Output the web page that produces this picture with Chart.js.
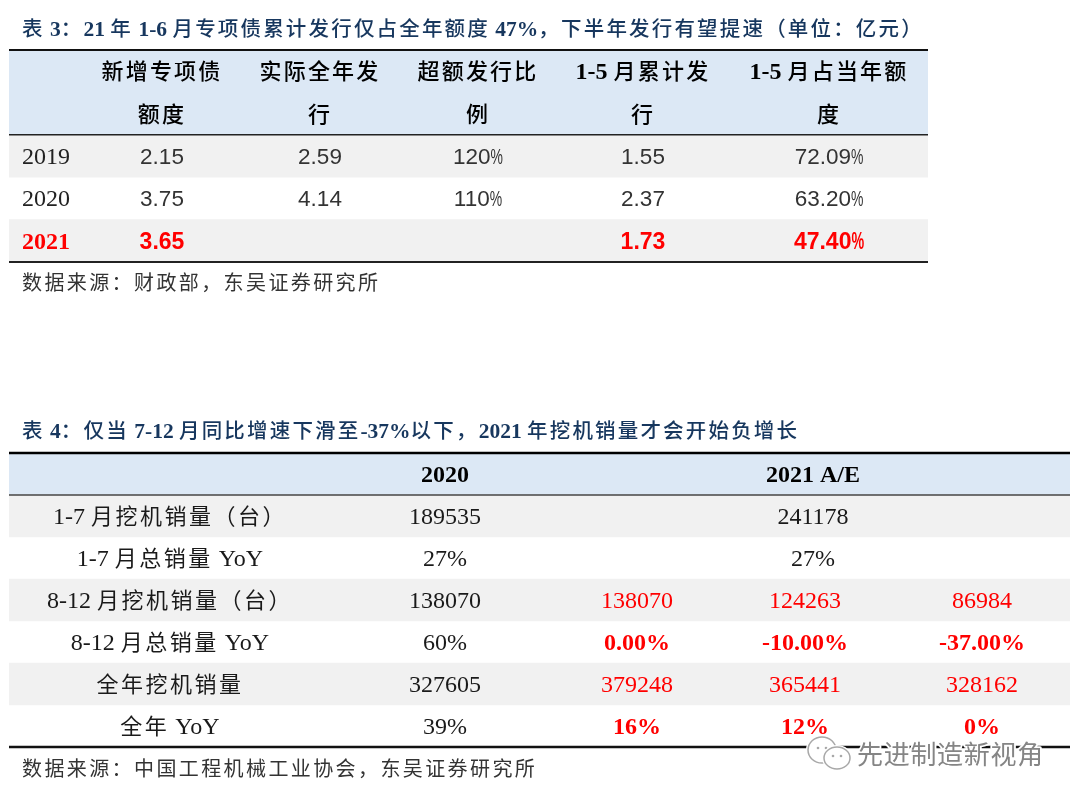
<!DOCTYPE html>
<html lang="zh">
<head>
<meta charset="utf-8">
<title>表 3 表 4</title>
<script src="https://cdn.jsdelivr.net/npm/chart.js@4"></script>
<style>
    html, body { margin: 0; padding: 0; background: #fff; }
    #page { position: relative; width: 1080px; height: 798px; overflow: hidden; }
    canvas { position: absolute; left: 0; }
    #table3 { top: 0; }
    #table4 { top: 400px; }
</style>
</head>
<body>
<div id="page">
    <canvas id="table3" width="1080" height="400"></canvas>
    <canvas id="table4" width="1080" height="398"></canvas>
</div>
<script>
// table 3 data
const title3 = '表 3：21 年 1-6 月专项债累计发行仅占全年额度 47%，下半年发行有望提速（单位：亿元）';
const source3 = '数据来源：财政部，东吴证券研究所';
const rows3 = ['表头一', '表头二', '2019', '2020', '2021'];
const headLine1 = ['新增专项债', '实际全年发', '超额发行比', '1-5 月累计发', '1-5 月占当年额'];
const headLine2 = ['额度', '行', '例', '行', '度'];
const quota = ['2.15', '3.75', '3.65'];
const actual = ['2.59', '4.14', ''];
const overRatio = ['120%', '110%', ''];
const cumJanMay = ['1.55', '2.37', '1.73'];
const shareJanMay = ['72.09%', '63.20%', '47.40%'];

// table 4 data
const title4 = '表 4：仅当 7-12 月同比增速下滑至-37%以下，2021 年挖机销量才会开始负增长';
const source4 = '数据来源：中国工程机械工业协会，东吴证券研究所';
const head4 = ['2020', '2021 A/E'];
const rows4 = ['表头', '1-7 月挖机销量（台）', '1-7 月总销量 YoY', '8-12 月挖机销量（台）', '8-12 月总销量 YoY', '全年挖机销量', '全年 YoY'];
const sales2020 = ['189535', '27%', '138070', '60%', '327605', '39%'];
const merged2021 = ['241178', '27%'];
const caseFlat = ['138070', '0.00%', '379248', '16%'];
const caseDown10 = ['124263', '-10.00%', '365441', '12%'];
const caseDown37 = ['86984', '-37.00%', '328162', '0%'];

const RED = '#ff0000';
const NAVY = '#17375e';
const CJK = '"Noto Sans CJK SC"';
const SERIF = '"Liberation Serif"';
const SANS = '"Liberation Sans"';
const isCjk = ch => /[\u2e80-\u9fff\u3000-\u303f\uff00-\uffef]/.test(ch);

// latin and chinese need different fonts, so the string is cut in runs
function drawMixed(ctx, text, x, y, st) {
    const runs = [];
    for (const ch of text) {
        const cjk = isCjk(ch);
        const narrow = st.narrowPct && ch === '%';
        const last = runs[runs.length - 1];
        if (last && last.cjk === cjk && last.narrow === narrow) last.text += ch;
        else runs.push({ text: ch, cjk, narrow });
    }
    let total = 0;
    for (const r of runs) {
        ctx.font = r.cjk ? st.cjkFont : st.latinFont;
        ctx.letterSpacing = r.cjk ? st.spacing + 'px' : '0px';
        r.w = ctx.measureText(r.text).width * (r.narrow ? 0.62 : 1);
        total += r.w;
    }
    let cx = st.align === 'center' ? x - total / 2 : x;
    ctx.textAlign = 'left';
    ctx.textBaseline = 'alphabetic';
    ctx.fillStyle = st.color;
    for (const r of runs) {
        ctx.font = r.cjk ? st.cjkFont : st.latinFont;
        ctx.letterSpacing = r.cjk ? st.spacing + 'px' : '0px';
        if (r.narrow) {
            ctx.save();
            ctx.translate(cx, y);
            ctx.scale(0.62, 1);
            ctx.fillText(r.text, 0, 0);
            ctx.restore();
        } else {
            ctx.fillText(r.text, cx, y);
        }
        cx += r.w;
    }
    ctx.letterSpacing = '0px';
}

const titleStyle = { latinFont: 'bold 21.5px ' + SERIF, cjkFont: '500 20.5px ' + CJK, spacing: 2.18, color: NAVY };
const sourceStyle = { latinFont: '20px ' + SERIF, cjkFont: '20px ' + CJK, spacing: 2.4, color: '#333' };
const head3Style = { latinFont: 'bold 24px ' + SERIF, cjkFont: '500 22px ' + CJK, spacing: 2.2, color: '#000', align: 'center' };
const sans3 = { latinFont: '22.5px ' + SANS, cjkFont: '22px ' + CJK, spacing: 0, color: '#333', align: 'center', narrowPct: true };
const sans3Red = { latinFont: 'bold 23px ' + SANS, cjkFont: '22px ' + CJK, spacing: 0, color: RED, align: 'center', narrowPct: true };
const serif4 = { latinFont: '24px ' + SERIF, cjkFont: '22px ' + CJK, spacing: 2.5, color: '#1a1a1a', align: 'center' };
const serif4Head = { latinFont: 'bold 24px ' + SERIF, cjkFont: '22px ' + CJK, spacing: 0, color: '#000', align: 'center' };
const red4 = { latinFont: '24px ' + SERIF, cjkFont: '22px ' + CJK, spacing: 0, color: RED, align: 'center' };
const red4Bold = { latinFont: 'bold 24px ' + SERIF, cjkFont: '22px ' + CJK, spacing: 0, color: RED, align: 'center' };

function hLine(chart, y, width, color) {
    const { ctx, chartArea } = chart;
    ctx.strokeStyle = color;
    ctx.lineWidth = width;
    ctx.beginPath();
    ctx.moveTo(chartArea.left, y);
    ctx.lineTo(chartArea.right, y);
    ctx.stroke();
}

const table3Plugin = {
    id: 'table3Text',
    afterDraw(chart) {
        const { ctx, chartArea } = chart;
        const x = chart.scales.x, y = chart.scales.y;
        const base = label => y.getPixelForValue(rows3.indexOf(label)) + 8;
        const colX = [162, 320, 478, 643, 829].map(v => x.getPixelForValue(v - 9));

        drawMixed(ctx, title3, 22, 36, titleStyle);
        colX.forEach((cx, i) => {
            drawMixed(ctx, headLine1[i], cx, base('表头一'), head3Style);
            drawMixed(ctx, headLine2[i], cx, base('表头二'), head3Style);
        });
        ['2019', '2020', '2021'].forEach((year, r) => {
            const red = year === '2021';
            const yearStyle = { latinFont: (red ? 'bold ' : '') + '24px ' + SERIF, cjkFont: '22px ' + CJK, spacing: 0, color: red ? RED : '#222' };
            drawMixed(ctx, year, 22, base(year), yearStyle);
            [quota, actual, overRatio, cumJanMay, shareJanMay].forEach((col, c) => {
                if (col[r]) drawMixed(ctx, col[r], colX[c], base(year), red ? sans3Red : sans3);
            });
        });
        const edge = i => y.getPixelForValue(i) - (y.getPixelForValue(1) - y.getPixelForValue(0)) / 2;
        hLine(chart, chartArea.top, 2, '#111');
        hLine(chart, edge(2), 1.5, '#222');
        hLine(chart, chartArea.bottom, 2, '#222');
        drawMixed(ctx, source3, 22, 290, sourceStyle);
    }
};

function drawWatermark(ctx) {
    // 公众号水印 sits on top of the table
    const bubbles = [[822, 350, 14, 13], [837, 358, 13, 11]];
    ctx.save();
    bubbles.forEach(e => {
        ctx.strokeStyle = '#fff';
        ctx.lineWidth = 4;
        ctx.fillStyle = '#fff';
        ctx.beginPath();
        ctx.ellipse(e[0], e[1], e[2], e[3], 0, 0, Math.PI * 2);
        ctx.stroke();
        ctx.fill();
        ctx.strokeStyle = '#a8a8a8';
        ctx.lineWidth = 1.5;
        ctx.stroke();
        ctx.fillStyle = '#a8a8a8';
        [-4, 4].forEach(dx => {
            ctx.beginPath();
            ctx.arc(e[0] + dx, e[1] - 2, 1.3, 0, Math.PI * 2);
            ctx.fill();
        });
    });
    ctx.font = '26px ' + CJK;
    ctx.letterSpacing = '0.7px';
    ctx.textAlign = 'left';
    ctx.textBaseline = 'alphabetic';
    ctx.lineJoin = 'round';
    ctx.strokeStyle = '#fff';
    ctx.lineWidth = 3.5;
    ctx.strokeText('先进制造新视角', 857, 364);
    ctx.fillStyle = '#858585';
    ctx.fillText('先进制造新视角', 857, 364);
    ctx.restore();
}

const table4Plugin = {
    id: 'table4Text',
    afterDraw(chart) {
        const { ctx, chartArea } = chart;
        const x = chart.scales.x, y = chart.scales.y;
        const base = i => y.getPixelForValue(i) + 8;
        const px = v => x.getPixelForValue(v - 9);
        const colLabel = px(170), col2020 = px(445), colMerged = px(813);
        const caseCols = [px(637), px(805), px(982)];

        drawMixed(ctx, title4, 22, 38, titleStyle);
        drawMixed(ctx, head4[0], col2020, base(0), serif4Head);
        drawMixed(ctx, head4[1], colMerged, base(0), serif4Head);
        rows4.slice(1).forEach((label, i) => {
            const r = i + 1;
            drawMixed(ctx, label, colLabel, base(r), serif4);
            drawMixed(ctx, sales2020[i], col2020, base(r), { ...serif4, spacing: 0 });
            if (i < merged2021.length) {
                drawMixed(ctx, merged2021[i], colMerged, base(r), { ...serif4, spacing: 0 });
            } else {
                [caseFlat, caseDown10, caseDown37].forEach((col, c) => {
                    const v = col[i - merged2021.length];
                    drawMixed(ctx, v, caseCols[c], base(r), v.includes('%') ? red4Bold : red4);
                });
            }
        });
        hLine(chart, chartArea.top, 2.5, '#000');
        hLine(chart, y.getPixelForValue(0) + (y.getPixelForValue(1) - y.getPixelForValue(0)) / 2, 1.5, '#444');
        hLine(chart, chartArea.bottom, 2.5, '#111');
        drawMixed(ctx, source4, 22, 376, sourceStyle);
        drawWatermark(ctx);
    }
};

// the rows are floating horizontal bars over the whole width of the table
function tableChart(id, rows, colors, span, padding, plugin) {
    return new Chart(document.getElementById(id), {
        type: 'bar',
        data: {
            labels: rows,
            datasets: [{
                data: rows.map(() => [0, span]),
                backgroundColor: colors,
                barPercentage: 1,
                categoryPercentage: 1,
                borderWidth: 0
            }]
        },
        options: {
            indexAxis: 'y',
            responsive: false,
            animation: false,
            layout: { padding },
            plugins: { legend: { display: false }, tooltip: { enabled: false }, title: { display: false } },
            scales: {
                x: { type: 'linear', min: 0, max: span, display: false },
                y: { type: 'category', display: false }
            }
        },
        plugins: [plugin]
    });
}

const BLUE = '#dce8f5';
const GREY = '#f1f1f1';
const NONE = 'rgba(0,0,0,0)';

tableChart('table3', rows3, [BLUE, BLUE, GREY, NONE, GREY], 919,
    { left: 9, right: 152, top: 50, bottom: 138 }, table3Plugin);
tableChart('table4', rows4, [BLUE, GREY, NONE, GREY, NONE, GREY, NONE], 1070 - 9,
    { left: 9, right: 10, top: 53, bottom: 51 }, table4Plugin);
</script>
</body>
</html>
